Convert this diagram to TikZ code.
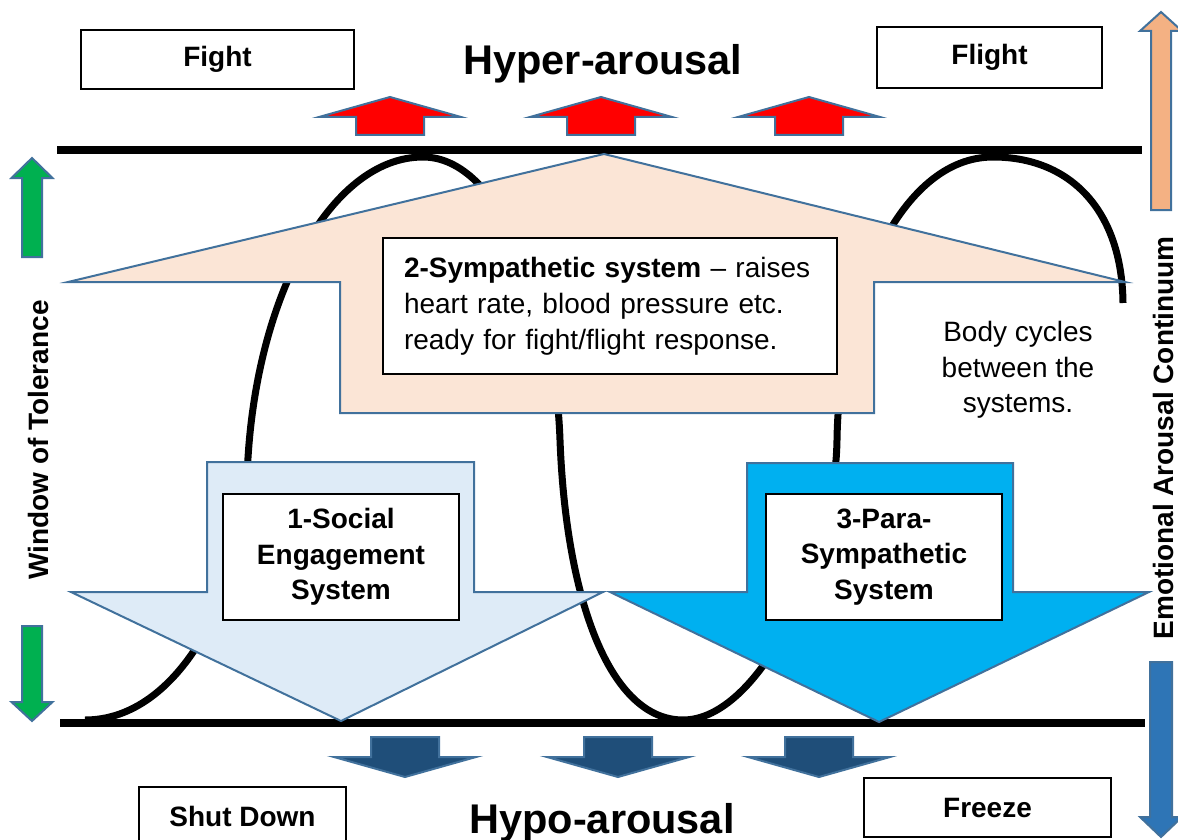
\documentclass[tikz,border=0pt]{standalone}
\usepackage{fontspec}
\setmainfont{Liberation Sans}
\usepackage{tikz}

\definecolor{edgeblue}{RGB}{65,113,156}
\definecolor{sympfill}{RGB}{251,229,214}
\definecolor{socfill}{RGB}{222,235,247}
\definecolor{parafill}{RGB}{0,176,240}
\definecolor{hypofill}{RGB}{31,78,121}
\definecolor{hyperfill}{RGB}{255,0,0}
\definecolor{winfill}{RGB}{0,176,80}
\definecolor{upfill}{RGB}{244,177,131}
\definecolor{downfill}{RGB}{46,117,182}

% block arrow: style, centre x, shaft half width, head half width, tip y, head base y, tail y
\newcommand{\blockarr}[7]{%
  \draw[#1] (#2-#3,#7) -- (#2-#3,#6) -- (#2-#4,#6) -- (#2,#5)
    -- (#2+#4,#6) -- (#2+#3,#6) -- (#2+#3,#7) -- cycle;}

\begin{document}
\begin{tikzpicture}[x=1pt,y=-1pt,line join=miter]

  \tikzstyle{lbl}=[font=\fontsize{28}{35.5}\selectfont\bfseries]
  \tikzstyle{txt}=[font=\fontsize{28}{35.5}\selectfont]
  \tikzstyle{big}=[font=\fontsize{41.5}{48}\selectfont\bfseries]
  \tikzstyle{tag}=[lbl,draw=black,line width=1.5pt,fill=white,inner sep=0pt]
  \tikzstyle{sysbox}=[tag,minimum width=236pt,minimum height=126pt,align=center]
  \tikzstyle{block}=[draw=edgeblue,line width=2pt]
  \tikzstyle{rail}=[line width=7.5pt]

  \useasboundingbox (0,0) rectangle (1178,840);
  \clip (0,0) rectangle (1178,840);

  %% window of tolerance limits
  \draw [rail] (57,150) -- (1142,150);
  \draw [rail] (60,723) -- (1145,723);

  %% body cycling between the systems
  \draw [line width=7pt]
    (85,720) .. controls (180,720) and (243,590) .. (247,480)
             .. controls (252,300) and (330,157) .. (423,157)
             .. controls (500,157) and (555,300) .. (560,440)
             .. controls (566,600) and (610,720) .. (683,720)
             .. controls (760,720) and (835,560) .. (837,440)
             .. controls (839,300) and (900,157) .. (993,157)
             .. controls (1070,157) and (1122,210) .. (1123,303);

  %% the three systems
  \draw [block,fill=sympfill] (340,413) -- (340,282) -- (68,282) -- (604,154)
    -- (1125,282) -- (874,282) -- (874,413) -- cycle;
  \draw [block,fill=socfill] (207,462) -- (207,592) -- (71,592) -- (341,721)
    -- (603,592) -- (474,592) -- (474,462) -- cycle;
  \draw [block,fill=parafill] (747,463) -- (747,592) -- (610,592) -- (879,722)
    -- (1149,592) -- (1013,592) -- (1013,463) -- cycle;

  %% small arrows
  \foreach \cx in {390,601,809}
    {\blockarr{block,fill=hyperfill}{\cx}{34}{71}{97}{117}{135}}
  \foreach \cx in {405,618,819}
    {\blockarr{block,fill=hypofill}{\cx}{34}{71}{777}{757}{737}}
  \blockarr{block,fill=winfill}{32}{10}{20.5}{158}{178}{257}
  \blockarr{block,fill=winfill}{32}{10}{20.5}{721}{702}{626}
  \blockarr{block,fill=upfill}{1161}{10}{21}{12}{31}{210}
  \blockarr{block,fill=downfill}{1161}{11}{21}{837}{817}{662}

  %% labels
  \node  (fight)  at (217.5,59.5) [tag,minimum width=273pt,minimum height=59pt] {Fight};
  \node  (flight) at (989.5,57.5) [tag,minimum width=225pt,minimum height=61pt] {Flight};
  \node  (shut)   at (242.5,816)  [tag,minimum width=207pt,minimum height=58pt] {Shut Down};
  \node  (freeze) at (987.5,807.5)[tag,minimum width=247pt,minimum height=59pt] {Freeze};

  \node  (hyper)  at (603,75)  [big,anchor=base] {Hyper-arousal};
  \node  (hypo)   at (602,833) [big,anchor=base] {Hypo-arousal};

  \node  (wot)    at (48,440)   [lbl,anchor=base,rotate=90] {Window of Tolerance};
  \node  (eac)    at (1173,438) [lbl,anchor=base,rotate=90] {Emotional Arousal Continuum};

  \node  (symp)   at (610,306)  [tag,font=\fontsize{28}{36}\selectfont,
                                 minimum width=454pt,minimum height=136pt,
                                 text width=412pt,align=left]
         {\textbf{2-Sympathetic system} – raises\\
          heart rate, blood pressure etc.\\
          ready for fight/flight response.};

  \node  (social) at (341,557) [sysbox] {1-Social\\Engagement\\System};
  \node  (para)   at (884,557) [sysbox] {3-Para-\\Sympathetic\\System};

  \node  (cycles) at (1018,370) [txt,align=center] {Body cycles\\between the\\systems.};

\end{tikzpicture}
\end{document}
